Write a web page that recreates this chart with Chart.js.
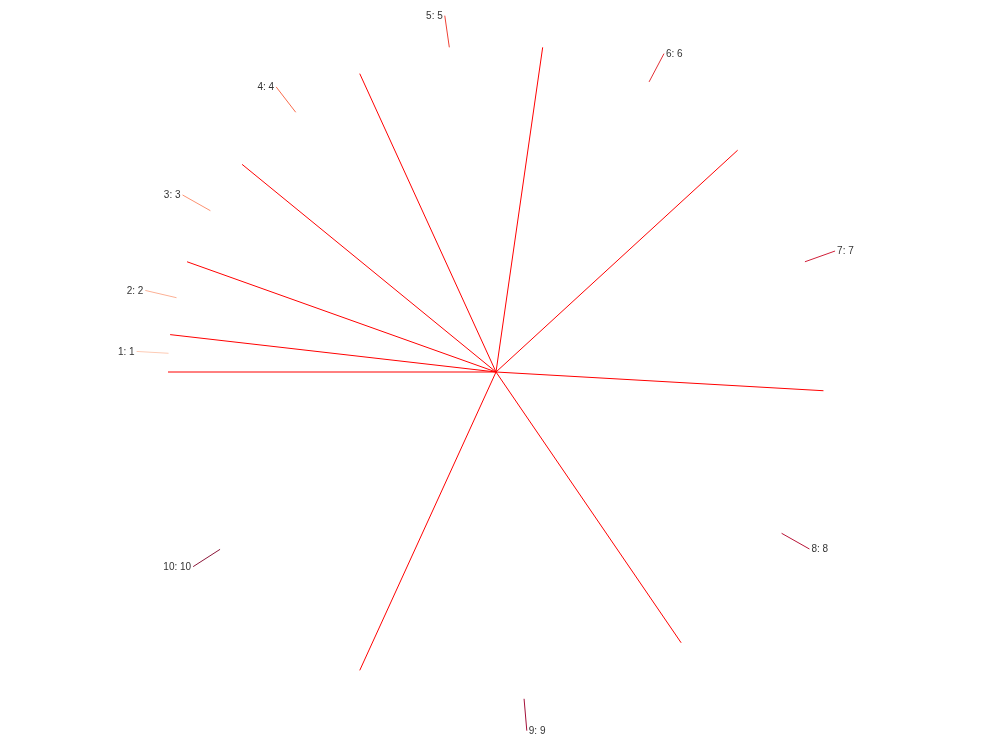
<!DOCTYPE html>
<html>
<head>
<meta charset="utf-8">
<script src="https://cdn.jsdelivr.net/npm/chart.js@4/dist/chart.umd.min.js"></script>
<style>
html,body{margin:0;padding:0;background:#fff;}
#wrap{width:992px;height:744px;}
</style>
</head>
<body>
<div id="wrap"><canvas id="c"></canvas></div>
<script>
const categories = ['1','2','3','4','5','6','7','8','9','10'];
const values = [1,2,3,4,5,6,7,8,9,10];
const sliceColors = ['#fdcbb5','#fcb095','#fc9272','#f96b4c','#ef4134','#e22f35','#d01f39','#b81437','#a30f38','#8c1639'];

const pieDecor = {
  id: 'pieDecor',
  afterDatasetsDraw(chart) {
    const ctx = chart.ctx;
    const meta = chart.getDatasetMeta(0);
    ctx.save();
    // radial red boundary lines
    ctx.strokeStyle = '#ff0000';
    ctx.lineWidth = 1;
    meta.data.forEach((arc) => {
      const p = arc.getProps(['x','y','startAngle','outerRadius'], true);
      ctx.beginPath();
      ctx.moveTo(p.x, p.y);
      ctx.lineTo(p.x + Math.cos(p.startAngle) * p.outerRadius, p.y + Math.sin(p.startAngle) * p.outerRadius);
      ctx.stroke();
    });
    // leader lines and labels
    ctx.font = '10px "Liberation Sans", Arial, sans-serif';
    ctx.textBaseline = 'middle';
    meta.data.forEach((arc, i) => {
      const p = arc.getProps(['x','y','startAngle','endAngle','outerRadius'], true);
      const mid = (p.startAngle + p.endAngle) / 2;
      const c = Math.cos(mid), s = Math.sin(mid);
      const r1 = p.outerRadius, r2 = p.outerRadius + 32;
      const x1 = p.x + c * r1, y1 = p.y + s * r1;
      const x2 = p.x + c * r2, y2 = p.y + s * r2;
      ctx.strokeStyle = sliceColors[i];
      ctx.beginPath();
      ctx.moveTo(x1, y1);
      ctx.lineTo(x2, y2);
      ctx.stroke();
      ctx.fillStyle = '#333333';
      const right = c >= 0;
      ctx.textAlign = right ? 'left' : 'right';
      ctx.fillText(categories[i] + ': ' + values[i], x2 + (right ? 2 : -2), y2 + 0.5);
    });
    ctx.restore();
  }
};

new Chart(document.getElementById('c'), {
  type: 'pie',
  data: {
    labels: categories,
    datasets: [{
      data: values,
      backgroundColor: 'rgba(0,0,0,0)',
      borderWidth: 0
    }]
  },
  options: {
    responsive: true,
    maintainAspectRatio: false,
    animation: false,
    rotation: 270,
    layout: { padding: 44 },
    plugins: {
      legend: { display: false },
      tooltip: { enabled: false }
    }
  },
  plugins: [pieDecor]
});
</script>
</body>
</html>
